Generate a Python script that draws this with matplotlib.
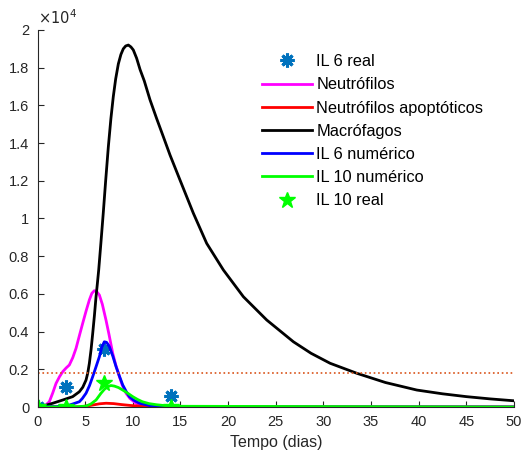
import matplotlib
matplotlib.use("Agg")
import matplotlib.pyplot as plt
from matplotlib.ticker import FuncFormatter

plt.rcParams["font.family"] = ["Liberation Sans", "DejaVu Sans"]

# values (y in units of 1e4)
t_neut = [0, 0.5, 0.9, 1.24, 1.6, 1.94, 2.3, 2.64, 3.0, 3.34, 3.7, 4.04, 4.4, 4.74, 5.1,
          5.44, 5.7, 5.96, 6.2, 6.49, 6.8, 7.19, 7.5, 7.89, 8.2, 8.59, 8.9, 9.29, 9.7,
          10.34, 11.4, 12.5, 50]
neut = [0, 0.002, 0.012, 0.028, 0.075, 0.125, 0.16, 0.187, 0.207, 0.223, 0.262, 0.311,
        0.38, 0.444, 0.51, 0.568, 0.603, 0.617, 0.613, 0.594, 0.545, 0.46, 0.385, 0.285,
        0.225, 0.161, 0.115, 0.073, 0.045, 0.02, 0.003, 0, 0]

t_apop = [0, 4.5, 5.5, 6.5, 7.2, 8.0, 8.8, 9.8, 11.0, 12.5, 50]
apop = [0, 0.001, 0.008, 0.017, 0.02, 0.018, 0.013, 0.008, 0.004, 0.001, 0]

t_macro = [0, 0.6, 1.6, 2.64, 3.69, 4.39, 4.75, 5.09, 5.27, 5.44, 5.62, 5.79, 5.97,
           6.14, 6.28, 6.42, 6.65, 6.9, 7.15, 7.43, 7.7, 7.95, 8.2, 8.48, 8.75, 9.0,
           9.25, 9.53, 9.8, 10.05, 10.4, 10.76, 11.2, 11.8, 12.5, 13.2, 13.9, 14.95,
           16.35, 17.75, 19.5, 21.6, 24.05, 26.85, 28.7, 30.7, 33.5, 36.5, 39.8, 42.5,
           45.0, 47.5, 50]
macro = [0, 0.005, 0.02, 0.037, 0.055, 0.081, 0.105, 0.143, 0.18, 0.232, 0.305, 0.39,
         0.485, 0.585, 0.655, 0.727, 0.87, 1.03, 1.2, 1.38, 1.53, 1.646, 1.74, 1.82,
         1.87, 1.90, 1.915, 1.92, 1.91, 1.894, 1.85, 1.79, 1.73, 1.63, 1.53, 1.434,
         1.337, 1.204, 1.028, 0.868, 0.727, 0.585, 0.4615, 0.346, 0.285, 0.232, 0.179,
         0.13, 0.090, 0.07, 0.055, 0.043, 0.033]

t_il6 = [0, 2.0, 3.34, 4.39, 4.7, 5.09, 5.45, 5.79, 6.15, 6.49, 6.75, 7.01, 7.25, 7.54,
         7.9, 8.24, 8.6, 8.94, 9.3, 9.64, 10.1, 10.7, 12.0, 13.5, 50]
il6 = [0, 0.002, 0.01, 0.028, 0.045, 0.073, 0.113, 0.161, 0.215, 0.267, 0.318, 0.346,
       0.343, 0.32, 0.27, 0.214, 0.163, 0.117, 0.083, 0.055, 0.036, 0.02, 0.005, 0.001, 0]

t_il10 = [0, 4.0, 5.09, 5.6, 6.14, 6.4, 6.66, 7.0, 7.36, 7.7, 8.06, 8.5, 8.94, 9.5, 9.99,
          10.5, 11.0, 11.7, 12.5, 14.0, 50]
il10 = [0, 0.001, 0.005, 0.016, 0.037, 0.055, 0.073, 0.093, 0.108, 0.114, 0.111, 0.103,
        0.09, 0.072, 0.055, 0.04, 0.028, 0.018, 0.012, 0.004, 0]

t_real = [0, 3, 7, 14]
il6_real = [0, 0.105, 0.307, 0.06]
il10_real = [0, 0, 0.125, 0]

limiar = 0.182
SCALE = 1e4


def sc(v):
    return [x * SCALE for x in v]


fig = plt.figure(figsize=(5.24, 4.54), dpi=100)
ax = fig.add_axes([0.0716, 0.1035, 0.9094, 0.8305])

grey = "#262626"
ax.plot(t_real, sc(il6_real), linestyle="none", marker=(8, 2, 0), markersize=10,
        markeredgewidth=2.2, color="#0072BD", label="IL 6 real")
ax.plot(t_neut, sc(neut), color="#FF00FF", lw=2, label="Neutrófilos")
ax.plot(t_apop, sc(apop), color="#FF0000", lw=2, label="Neutrófilos apoptóticos")
ax.plot(t_macro, sc(macro), color="black", lw=2, label="Macrófagos")
ax.plot(t_il6, sc(il6), color="#0000FF", lw=2, label="IL 6 numérico")
ax.plot(t_il10, sc(il10), color="#00FF00", lw=2, label="IL 10 numérico")
ax.plot(t_real, sc(il10_real), linestyle="none", marker="*", markersize=12,
        color="#00FF00", label="IL 10 real")
ax.plot([0, 50], [limiar * SCALE] * 2, linestyle=":", color="#D95319", lw=1.2)

ax.set_xlim(0, 50)
ax.set_ylim(0, 2e4)
ax.set_xticks(range(0, 51, 5))
ax.set_yticks([i * 0.2e4 for i in range(11)])
ax.yaxis.set_major_formatter(FuncFormatter(lambda v, p: f"{v / SCALE:g}"))
ax.text(0.0, 1.008, r"$\times10^{4}$", transform=ax.transAxes, fontsize=10.5,
        color=grey, ha="left", va="bottom")

for s in ("top", "right"):
    ax.spines[s].set_visible(False)
for s in ("left", "bottom"):
    ax.spines[s].set_color(grey)
ax.tick_params(direction="in", colors=grey, labelsize=10.5, length=4, pad=6)

ax.set_xlabel("Tempo (dias)", fontsize=11.5, color=grey, labelpad=4)

ax.legend(loc="upper left", bbox_to_anchor=(0.441, 0.975), frameon=False,
          fontsize=11.8, handlelength=3.0, labelspacing=0.5, handletextpad=0.3)

fig.savefig("out.png", dpi=100)
